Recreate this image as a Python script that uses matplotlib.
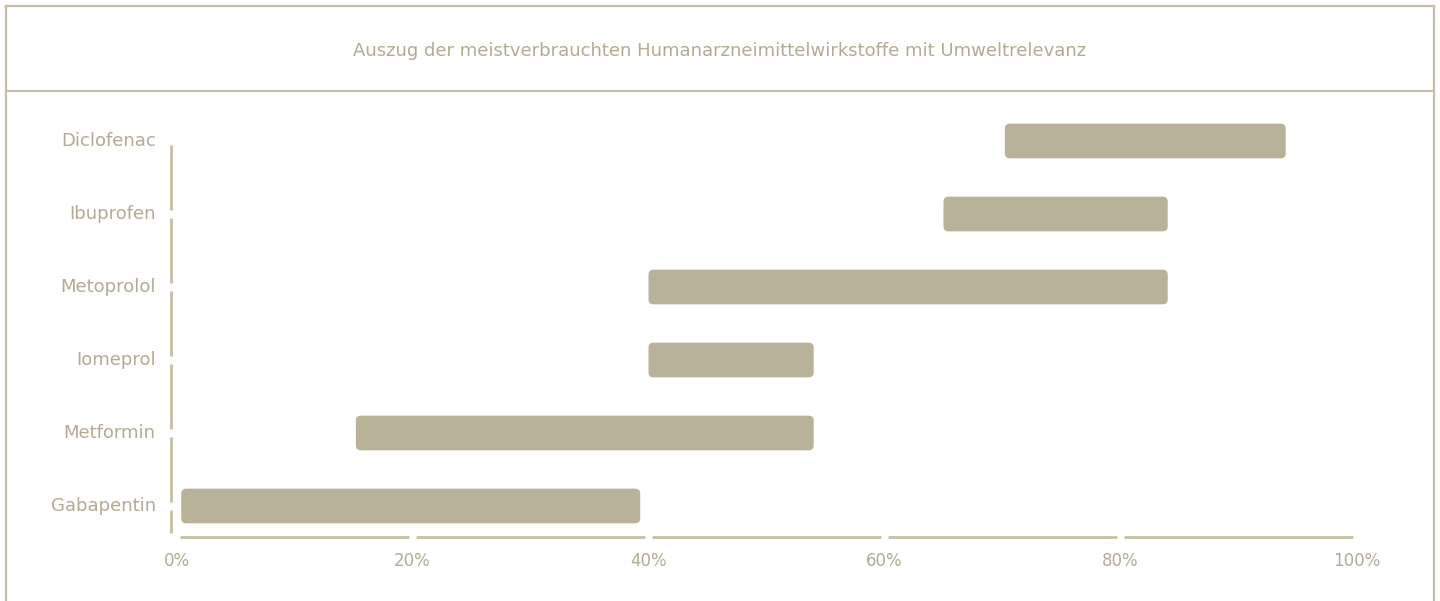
import matplotlib
matplotlib.use("Agg")
import matplotlib.pyplot as plt
from matplotlib.patches import FancyBboxPatch
from matplotlib.lines import Line2D
import matplotlib.transforms as mtransforms

# ---- data ----
categories = ["Gabapentin", "Metformin", "Iomeprol", "Metoprolol", "Ibuprofen", "Diclofenac"]
starts = [0.4, 15.2, 40.0, 40.0, 65.0, 70.2]
ends = [39.3, 54.0, 54.0, 84.0, 84.0, 94.0]
xticks = [0, 20, 40, 60, 80, 100]
xticklabels = ["0%", "20%", "40%", "60%", "80%", "100%"]
title = "Auszug der meistverbrauchten Humanarzneimittelwirkstoffe mit Umweltrelevanz"

BAR = "#b9b198"
LINE = "#c6bfa7"
TEXT = "#b3ab91"
FONT = ["DejaVu Sans"]

plt.rcParams["font.family"] = FONT

W, H = 1440, 601
fig = plt.figure(figsize=(W / 100, H / 100), dpi=100)
fig.patch.set_facecolor("white")

# frame
kw = dict(color=LINE, lw=1.6, transform=fig.transFigure)
fig.add_artist(Line2D([6 / W, 6 / W], [0, 1 - 6 / H], **kw))
fig.add_artist(Line2D([1434 / W, 1434 / W], [0, 1 - 6 / H], **kw))
fig.add_artist(Line2D([6 / W, 1434 / W], [1 - 6 / H, 1 - 6 / H], **kw))
fig.add_artist(Line2D([6 / W, 1434 / W], [1 - 91 / H, 1 - 91 / H], **kw))
fig.text(720 / W, 1 - 51 / H, title, ha="center", va="center", color=TEXT,
         fontsize=13, fontfamily=FONT)

# axes
left_px, right_px = 176.5, 1356.5
top_px, bot_px = 104.5, 537
ax = fig.add_axes([left_px / W, 1 - bot_px / H, (right_px - left_px) / W, (bot_px - top_px) / H])
ax.set_xlim(0, 100)
ybot = -0.4247
ax.set_ylim(ybot, 5.5)
for s in ax.spines.values():
    s.set_visible(False)

xpx = (right_px - left_px) / 100.0
ypx = (bot_px - top_px) / (5.5 - ybot)
bar_h = 0.475
r_px = 5.0
for i, (s0, e0) in enumerate(zip(starts, ends)):
    p = FancyBboxPatch((s0, i - bar_h / 2), e0 - s0, bar_h,
                       boxstyle=f"round,pad=0,rounding_size={r_px / xpx}",
                       mutation_aspect=xpx / ypx,
                       facecolor=BAR, edgecolor="none", clip_on=False)
    ax.add_patch(p)

# x axis line with gaps at ticks
gx = 3.6 / xpx
for a, b in zip(xticks[:-1], xticks[1:]):
    ax.plot([a + gx, b - gx], [ybot, ybot], color=LINE, lw=2.0, clip_on=False, solid_capstyle="butt")

# y axis line with gaps at categories
trans = mtransforms.blended_transform_factory(ax.transAxes, ax.transData)
xoff = -5.5 / (right_px - left_px)
gy = 4.0 / ypx
ypos = [ybot] + list(range(len(categories)))
for a, b in zip(ypos[:-1], ypos[1:]):
    ax.plot([xoff, xoff], [a + gy, b - gy], color=LINE, lw=2.0, clip_on=False,
            transform=trans, solid_capstyle="butt")

ax.set_xticks(xticks)
ax.set_xticklabels(xticklabels, fontfamily=FONT)
ax.set_yticks(range(len(categories)))
ax.set_yticklabels(categories, fontfamily=FONT)
ax.tick_params(axis="x", length=0, pad=11, labelcolor=TEXT, labelsize=12)
ax.tick_params(axis="y", length=0, pad=15, labelcolor=TEXT, labelsize=13)
offs = mtransforms.ScaledTranslation(0, 1.5 / 72, fig.dpi_scale_trans)
for lab in ax.get_yticklabels():
    lab.set_transform(lab.get_transform() + offs)

fig.savefig("out.png", dpi=100, facecolor="white")
